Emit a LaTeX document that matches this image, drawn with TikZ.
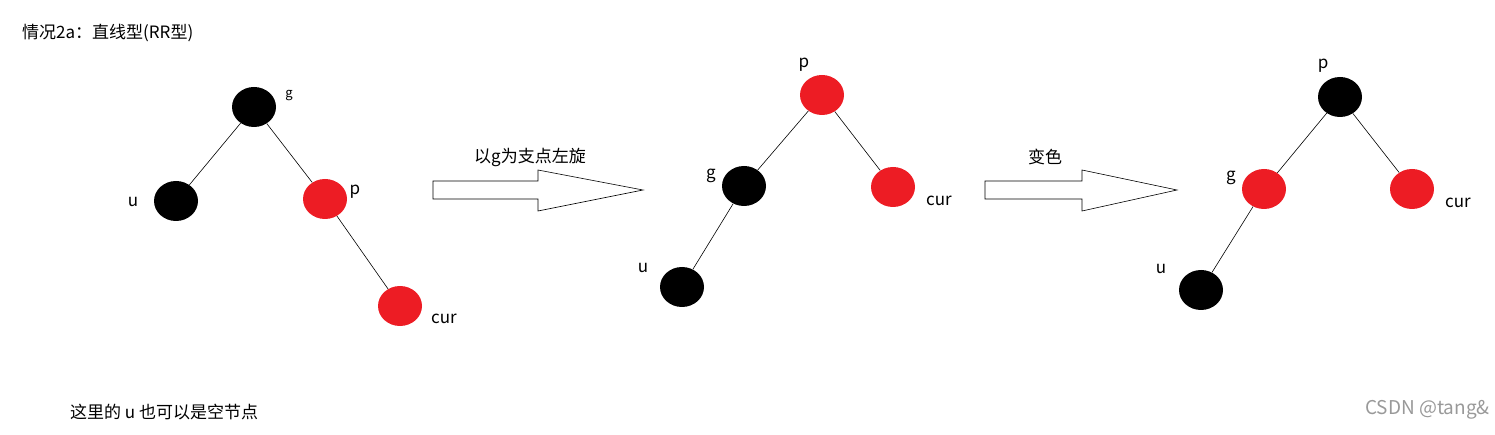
\documentclass[tikz,border=0pt]{standalone}
\usepackage{fontspec}
\setmainfont{Noto Sans CJK SC}
\usetikzlibrary{shapes.geometric}
\definecolor{nred}{HTML}{ED1C24}
\tikzset{
 bn/.style={ellipse,fill=black,minimum width=44pt,minimum height=40pt,inner sep=0},
 rn/.style={ellipse,fill=nred,minimum width=44pt,minimum height=40pt,inner sep=0},
 lbl/.style={font=\fontsize{17}{20}\selectfont,inner sep=0},
 edge/.style={draw,line width=0.6pt},
 bigarrow/.style={draw,line width=0.6pt,fill=white}
}
\begin{document}
\begin{tikzpicture}[x=1pt,y=-1pt]
\useasboundingbox (0,0) rectangle (1495,435);
\node[lbl,anchor=west] (title) at (22,33) {情况2a：直线型(RR型)};
% tree 1
\node[bn] (g1) at (254,107) {};
\node[bn] (u1) at (176,201) {};
\node[rn] (p1) at (325,199) {};
\node[rn] (c1) at (400,306) {};
\draw[edge] (g1) -- (u1); \draw[edge] (g1) -- (p1); \draw[edge] (p1) -- (c1);
\node[lbl,font=\fontsize{13}{15}\selectfont] at (289,96) {g};
\node[lbl] at (133,202) {u};
\node[lbl] at (355,192) {p};
\node[lbl] at (444,319) {cur};
% arrow 1
\draw[bigarrow] (433,181) -- (538,181) -- (538,170) -- (643,190) -- (538,211) -- (538,199) -- (433,199) -- cycle;
\node[lbl] (a1) at (530,157) {以g为支点左旋};
% tree 2
\node[rn] (p2) at (822,95) {};
\node[bn] (g2) at (744,186) {};
\node[rn] (c2) at (893,187) {};
\node[bn] (u2) at (682,287) {};
\draw[edge] (p2) -- (g2); \draw[edge] (p2) -- (c2); \draw[edge] (g2) -- (u2);
\node[lbl] at (804,65) {p};
\node[lbl] at (711,176) {g};
\node[lbl] at (939,201) {cur};
\node[lbl] at (643,268) {u};
% arrow 2
\draw[bigarrow] (985,181) -- (1082,181) -- (1082,170) -- (1177,190) -- (1082,211) -- (1082,199) -- (985,199) -- cycle;
\node[lbl] (a2) at (1045,157) {变色};
% tree 3
\node[bn] (p3) at (1340,97) {};
\node[rn] (g3) at (1264,189) {};
\node[rn] (c3) at (1412,189) {};
\node[bn] (u3) at (1201,290) {};
\draw[edge] (p3) -- (g3); \draw[edge] (p3) -- (c3); \draw[edge] (g3) -- (u3);
\node[lbl] at (1323,66) {p};
\node[lbl] at (1231,178) {g};
\node[lbl] at (1458,203) {cur};
\node[lbl] at (1161,269) {u};
% notes
\node[lbl,anchor=west] (note) at (70,412) {这里的 u 也可以是空节点};
\node[lbl,anchor=east,text=black!40,font=\fontsize{19}{22}\selectfont] (wm) at (1490,410) {CSDN @tang\&};
\end{tikzpicture}
\end{document}
